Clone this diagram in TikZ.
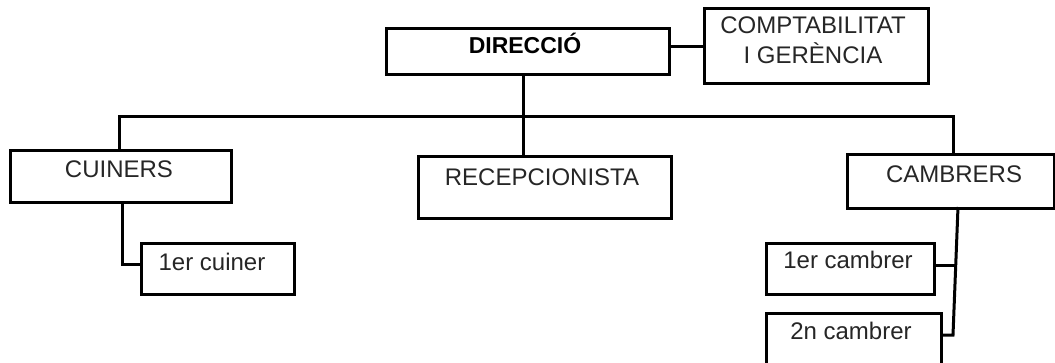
\documentclass[tikz,border=0pt]{standalone}
\usepackage{fontspec}
\setmainfont{Liberation Sans}
\begin{document}
\begin{tikzpicture}[x=1pt,y=-1pt,
  box/.style={draw=black,line width=3pt,rectangle,inner sep=0pt,anchor=north west},
  lbl/.style={anchor=base,inner sep=0pt,font=\fontsize{24}{30}\selectfont,text=black!85},
  conn/.style={draw=black,line width=3pt}]
\useasboundingbox (0,0) rectangle (1055,362);
% boxes
\node[box,minimum width=283pt,minimum height=46pt] (dir) at (385,27) {};
\node[box,minimum width=224pt,minimum height=75pt] (comp) at (703,7) {};
\node[box,minimum width=221pt,minimum height=52pt] (cui) at (9,149) {};
\node[box,minimum width=153pt,minimum height=51pt] (cui1) at (140,242) {};
\node[box,minimum width=253pt,minimum height=62pt] (rec) at (417,155) {};
\node[box,minimum width=207pt,minimum height=54pt] (cam) at (846,153) {};
\node[box,minimum width=168pt,minimum height=51pt] (cam1) at (765,242) {};
\node[box,minimum width=175pt,minimum height=70pt] (cam2) at (765,312) {};
% labels
\node[lbl,font=\fontsize{23}{30}\selectfont\bfseries,text=black] (tdir) at (525,53) {DIRECCIÓ};
\node[lbl,align=center] (tcomp) at (813,63) {COMPTABILITAT\\I GERÈNCIA};
\node[lbl] (tcui) at (119,177) {CUINERS};
\node[lbl] (tcui1) at (212,270) {1er cuiner};
\node[lbl] (trec) at (542,185) {RECEPCIONISTA};
\node[lbl] (tcam) at (954,182) {CAMBRERS};
\node[lbl] (tcam1) at (848,268) {1er cambrer};
\node[lbl] (tcam2) at (851,339) {2n cambrer};
% connectors
\coordinate (barL) at (119,116);
\coordinate (barM) at (523,116);
\coordinate (barR) at (953,116);
\draw[conn] (dir.east |- 0,46) -- (comp.west |- 0,46);
\draw[conn] (dir.south -| barM) -- (barM);
\draw[conn,line cap=rect] (barL) -- (barR);
\draw[conn] (barL) -- (cui.north -| barL);
\draw[conn] (barM) -- (rec.north -| barM);
\draw[conn] (barR) -- (cam.north -| barR);
\coordinate (cuiB) at (122,264);
\draw[conn] (cui.south -| cuiB) -- (cuiB) -- (cui1.west |- cuiB);
\coordinate (camT) at (958,207);
\coordinate (camM) at (955.3,265);
\coordinate (camB) at (953,335);
\draw[conn] (camT) -- (camB) -- (cam2.east |- camB);
\draw[conn] (camM) -- (cam1.east |- camM);
\end{tikzpicture}
\end{document}
